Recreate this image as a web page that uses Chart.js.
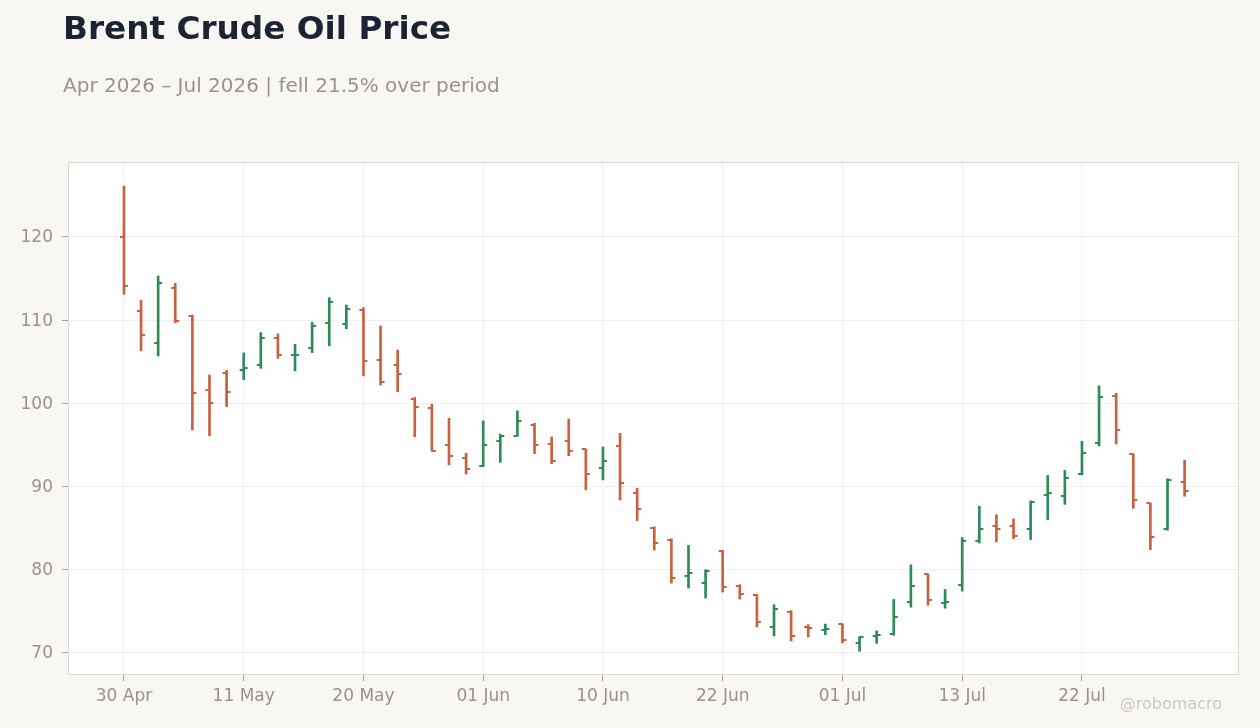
<!DOCTYPE html>
<html>
<head>
<meta charset="utf-8">
<script src="https://cdn.jsdelivr.net/npm/chart.js@4.4.1/dist/chart.umd.min.js"></script>
<style>
  html, body { margin: 0; padding: 0; background: #f8f7f4; }
  #wrap { position: relative; width: 1260px; height: 728px; font-family: "DejaVu Sans", sans-serif; }
  #title { position: absolute; left: 63px; top: 12px; font-size: 32.7px; line-height: 33px; font-weight: bold; color: #1c2333; white-space: nowrap; }
  #subtitle { position: absolute; left: 63px; top: 75px; font-size: 20px; line-height: 20px; color: #9a938c; white-space: nowrap; }
  #mark { position: absolute; right: 38px; top: 696px; font-size: 16px; line-height: 16px; color: #cdc8c2; white-space: nowrap; }
  canvas { position: absolute; left: 0; top: 0; }
</style>
</head>
<body>
<div id="wrap">
  <canvas id="oilChart" width="1260" height="728"></canvas>
  <div id="title">Brent Crude Oil Price</div>
  <div id="subtitle">Apr 2026 – Jul 2026 | fell 21.5% over period</div>
  <div id="mark">@robomacro</div>
</div>
<script>
// trading days (NYSE calendar, holidays skipped)
const days = ['30 Apr', '01 May', '04 May', '05 May', '06 May', '07 May', '08 May',
    '11 May', '12 May', '13 May', '14 May', '15 May', '18 May', '19 May',
    '20 May', '21 May', '22 May', '26 May', '27 May', '28 May', '29 May',
    '01 Jun', '02 Jun', '03 Jun', '04 Jun', '05 Jun', '08 Jun', '09 Jun',
    '10 Jun', '11 Jun', '12 Jun', '15 Jun', '16 Jun', '17 Jun', '18 Jun',
    '22 Jun', '23 Jun', '24 Jun', '25 Jun', '26 Jun', '29 Jun', '30 Jun',
    '01 Jul', '02 Jul', '06 Jul', '07 Jul', '08 Jul', '09 Jul', '10 Jul',
    '13 Jul', '14 Jul', '15 Jul', '16 Jul', '17 Jul', '20 Jul', '21 Jul',
    '22 Jul', '23 Jul', '24 Jul', '27 Jul', '28 Jul', '29 Jul', '30 Jul'];

const opens = [120.0, 111.15, 107.2, 113.9, 110.5, 101.65, 103.7,
    104.05, 104.55, 107.8, 105.75, 106.7, 109.7, 109.56,
    111.25, 105.2, 104.6, 100.55, 99.46, 95.0, 93.45,
    92.45, 95.5, 96.1, 97.4, 95.15, 95.5, 94.47,
    92.27, 94.9, 89.2, 85.0, 83.52, 79.24, 78.4,
    82.24, 78.04, 76.96, 73.12, 74.92, 73.12, 72.7,
    73.45, 71.16, 72.05, 72.25, 76.1, 79.48, 76.06,
    78.15, 83.45, 85.3, 85.2, 84.84, 88.95, 88.83,
    91.49, 95.24, 100.93, 93.9, 87.98, 84.84, 90.52];

const highs = [126.1, 112.4, 115.3, 114.4, 110.6, 103.4, 103.95,
    106.05, 108.5, 108.35, 107.1, 109.75, 112.7, 111.8,
    111.5, 109.3, 106.4, 100.7, 99.9, 98.2, 94.0,
    97.9, 96.3, 99.1, 97.6, 95.95, 98.1, 94.5,
    94.75, 96.4, 89.8, 85.16, 83.72, 82.92, 80.0,
    82.32, 78.2, 77.0, 75.8, 75.08, 73.4, 73.47,
    73.5, 71.97, 72.65, 76.43, 80.6, 79.5, 77.63,
    83.86, 87.63, 86.6, 86.1, 88.27, 91.33, 91.94,
    95.44, 102.1, 101.2, 93.95, 88.0, 90.93, 93.15];

const lows = [113.1, 106.3, 105.7, 109.7, 96.8, 96.1, 99.6,
    102.85, 104.2, 105.4, 103.9, 106.1, 106.9, 108.96,
    103.3, 102.2, 101.4, 95.98, 94.25, 92.6, 91.5,
    92.4, 92.9, 96.05, 93.95, 92.75, 93.7, 89.6,
    90.8, 88.4, 85.9, 82.36, 78.4, 77.8, 76.6,
    77.32, 76.48, 73.12, 72.04, 71.44, 71.92, 72.2,
    71.2, 70.2, 71.16, 72.13, 75.5, 75.74, 75.38,
    77.43, 83.21, 83.35, 83.75, 83.63, 86.0, 87.86,
    91.41, 94.88, 95.12, 87.38, 82.42, 84.76, 88.83];

const closes = [114.05, 108.2, 114.5, 109.9, 101.25, 100.05, 101.4,
    104.3, 107.9, 105.75, 105.85, 109.3, 112.2, 111.36,
    105.1, 102.6, 103.55, 99.6, 94.3, 93.7, 92.1,
    95.0, 96.1, 97.9, 95.0, 93.07, 94.27, 91.5,
    93.1, 90.46, 87.3, 83.2, 79.0, 79.6, 79.8,
    77.92, 77.08, 73.72, 75.28, 72.04, 73.05, 72.93,
    71.6, 71.9, 72.13, 74.3, 78.1, 76.35, 76.12,
    83.41, 84.9, 84.9, 84.07, 88.1, 89.2, 90.97,
    93.99, 100.77, 96.8, 88.35, 83.99, 90.77, 89.5];

// which days get an x label, and the y grid values
const xTickIdx = [0, 7, 14, 21, 28, 35, 42, 49, 56];
const yTickVals = [70, 80, 90, 100, 110, 120];

const UP = '#2e8b57';
const DOWN = '#c9603f';

const ranges = [];
const colours = [];
for (let i = 0; i < days.length; i++) {
    ranges.push({ x: i, y: [lows[i], highs[i]] });
    colours.push(closes[i] >= opens[i] ? UP : DOWN);
}

// white plot area + frame
const frame = {
    id: 'frame',
    beforeDraw(chart) {
        const a = chart.chartArea;
        const c = chart.ctx;
        c.save();
        c.fillStyle = '#ffffff';
        c.fillRect(a.left, a.top, a.right - a.left, a.bottom - a.top);
        c.restore();
    },
    beforeDatasetsDraw(chart) {
        const a = chart.chartArea;
        const c = chart.ctx;
        c.save();
        c.strokeStyle = '#ddd7d0';
        c.lineWidth = 1;
        c.strokeRect(a.left + 0.5, a.top + 0.5, a.right - a.left - 1, a.bottom - a.top - 1);
        c.restore();
    }
};

// open (left) and close (right) ticks on each bar
const ohlcTicks = {
    id: 'ohlcTicks',
    afterDatasetsDraw(chart) {
        const xs = chart.scales.x;
        const ys = chart.scales.y;
        const c = chart.ctx;
        c.save();
        for (let i = 0; i < days.length; i++) {
            const px = xs.getPixelForValue(i);
            c.fillStyle = colours[i];
            c.fillRect(px - 4, Math.round(ys.getPixelForValue(opens[i])) - 1, 4, 2);
            c.fillRect(px, Math.round(ys.getPixelForValue(closes[i])) - 1, 4, 2);
        }
        c.restore();
    }
};

new Chart(document.getElementById('oilChart'), {
    type: 'bar',
    data: {
        datasets: [{
            label: 'Brent',
            data: ranges,
            backgroundColor: colours,
            borderWidth: 0,
            barThickness: 2,
            grouped: false
        }]
    },
    options: {
        responsive: false,
        animation: false,
        events: [],
        layout: { padding: { top: 162, left: 0, right: 21, bottom: 0 } },
        plugins: {
            legend: { display: false },
            tooltip: { enabled: false }
        },
        scales: {
            x: {
                type: 'linear',
                offset: false,
                min: -3.27,
                max: 65.18,
                afterBuildTicks(scale) {
                    scale.ticks = xTickIdx.map(v => ({ value: v }));
                },
                afterFit(scale) { scale.height = 53; },
                ticks: {
                    autoSkip: false,
                    maxRotation: 0,
                    padding: 5,
                    color: '#9a918a',
                    font: { family: 'DejaVu Sans', size: 17 },
                    callback: (v) => days[v]
                },
                grid: { offset: false, color: '#efefef', tickColor: '#a39b94', tickLength: 6 },
                border: { display: false }
            },
            y: {
                min: 67.35,
                max: 129.0,
                afterBuildTicks(scale) {
                    scale.ticks = yTickVals.map(v => ({ value: v }));
                },
                afterFit(scale) { scale.width = 68; },
                ticks: {
                    padding: 9,
                    labelOffset: 1,
                    color: '#9a918a',
                    font: { family: 'DejaVu Sans', size: 17 }
                },
                grid: { color: '#efefef', tickColor: '#a39b94', tickLength: 6 },
                border: { display: false }
            }
        }
    },
    plugins: [frame, ohlcTicks]
});
</script>
</body>
</html>
